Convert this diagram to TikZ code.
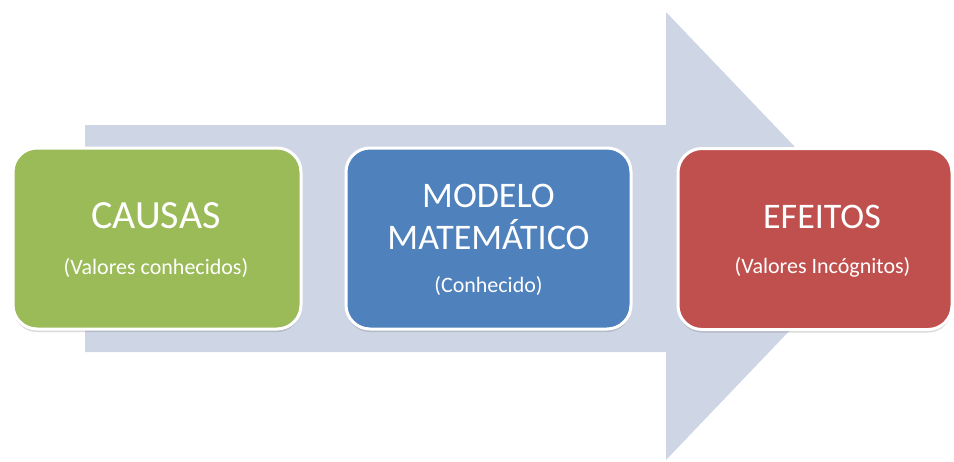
\documentclass[tikz,border=0pt]{standalone}
\usepackage{fontspec}
\setmainfont{Carlito}
\usetikzlibrary{shadows}
\definecolor{arrowfill}{HTML}{CED6E5}
\definecolor{causegreen}{HTML}{9BBB59}
\definecolor{modelblue}{HTML}{4F81BD}
\definecolor{effectred}{HTML}{C0504D}
\tikzset{
  stage/.style={draw=white, line width=3pt, rounded corners=24pt,
    minimum width=#1, minimum height=181pt, inner sep=0pt,
    drop shadow={shadow xshift=0pt, shadow yshift=-3pt, opacity=0.25, fill=black!60}},
  title/.style={text=white, font=\fontsize{#1}{#1}\selectfont, anchor=base, inner sep=0pt},
  title/.default=36,
  sub/.style={text=white, font=\fontsize{22}{24}\selectfont, anchor=base, inner sep=0pt},
}
\begin{document}
\begin{tikzpicture}[x=1pt,y=-1pt]
\useasboundingbox (0,0) rectangle (954,461);
% large background arrow
\fill[arrowfill] (85,125) -- (666,125) -- (666,12) -- (880,236)
  -- (666,460) -- (666,352) -- (85,352) -- cycle;
% stage boxes
\node[stage=288pt, fill=causegreen] (causas) at (157,238.5) {};
\node[stage=285pt, fill=modelblue] (modelo) at (488.5,238.5) {};
\node[stage=274pt, fill=effectred] (efeitos) at (815,239) {};
% texts
\node[title=40] (t1) at (156,228) {CAUSAS};
\node[sub] (s1) at (156,274) {(Valores conhecidos)};
\node[title] (t2a) at (488.5,207) {MODELO};
\node[title] (t2b) at (488.5,249) {MATEMÁTICO};
\node[sub] (s2) at (488.5,292) {(Conhecido)};
\node[title] (t3) at (822,228) {EFEITOS};
\node[sub] (s3) at (822.5,273) {(Valores Incógnitos)};
\end{tikzpicture}
\end{document}
